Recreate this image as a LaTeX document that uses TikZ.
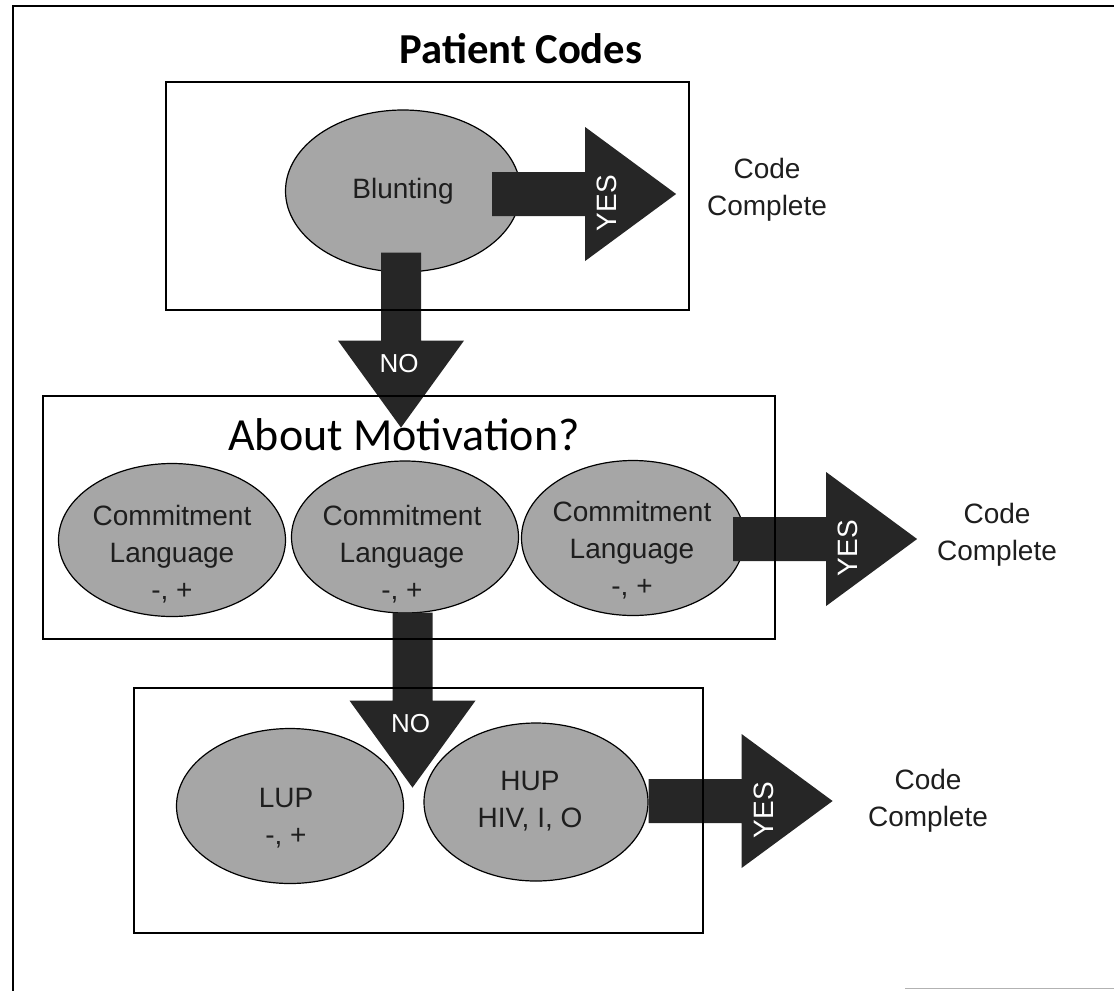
\documentclass[tikz,border=0pt]{standalone}
\usepackage{fontspec}
\setmainfont{Liberation Sans}
\newfontfamily\calibri{Carlito}
\usetikzlibrary{shapes.geometric,calc}
\definecolor{ovalgray}{HTML}{A6A6A6}
\definecolor{arrowdark}{HTML}{262626}
\definecolor{inkdark}{HTML}{1E1E1E}
\newcommand\bodyfs{\fontsize{21pt}{28pt}\selectfont}
\begin{document}
\begin{tikzpicture}[x=0.75pt,y=-0.75pt,
  oval/.style={ellipse, draw=black, line width=0.9pt, fill=ovalgray, inner sep=0pt, font=\bodyfs, text=inkdark},
  ovaltext/.style={align=center, font=\bodyfs, text=inkdark, inner sep=0pt},
  donetext/.style={align=center, font=\bodyfs, text=inkdark, inner sep=0pt},
  boxline/.style={draw=black, line width=1.2pt},
  arrowlabel/.style={text=white, font=\bodyfs, inner sep=0pt},
  pics/yesarrow/.style={code={
    \fill[arrowdark] (0,-22) -- (93,-22) -- (93,-67) -- (184,0) -- (93,67) -- (93,22) -- (0,22) -- cycle;
    \node[arrowlabel, rotate=90] (-lbl) at (115,9) {YES};
  }},
  pics/noarrow/.style={code={
    \fill[arrowdark] (-20,0) -- (-20,88) -- (-63,88) -- (0,175) -- (63,88) -- (20,88) -- (20,0) -- cycle;
    \node[arrowlabel, font=\fontsize{19.5pt}{24pt}\selectfont] (-lbl) at (-2,111) {NO};
  }}
]
\useasboundingbox (0,0) rectangle (1114,990);
\clip (0,0) rectangle (1114,990);

% ovals
\node[oval, minimum width=176.25pt, minimum height=121.5pt] (blunt) at (403,191) {Blunting};
\node[oval, minimum width=170.25pt, minimum height=114.75pt] (cl1) at (172,540) {};
\node[oval, minimum width=170.25pt, minimum height=114pt] (cl2) at (405,537) {};
\node[oval, minimum width=167.25pt, minimum height=116.25pt] (cl3) at (633,538) {};
\node[oval, minimum width=170.25pt, minimum height=116.25pt] (lup) at (290,806) {};
\node[oval, minimum width=168pt, minimum height=118.5pt] (hup) at (536,802) {};

% block arrows
\pic (yes1) at ($(blunt.east)+(-29,3)$) {yesarrow};
\pic (yes2) at ($(cl3.east)+(-12,1)$) {yesarrow};
\pic (yes3) at ($(hup.east)+(0,-1)$) {yesarrow};
\pic (no1) at ($(blunt.south)+(-2,-20)$) {noarrow};
\pic (no2) at ($(cl2.south)+(7.5,-1)$) {noarrow};

% frames
\draw[boxline] (166,82) rectangle (689,310);
\draw[boxline] (43,396) rectangle (775,639);
\draw[boxline] (134,688) rectangle (703,933);
\draw[boxline] (13,1000) -- (13,6) -- (1125,6);
\draw[gray!60, line width=0.9pt] (905,988.5) -- (1114,988.5);

% headings
\node[anchor=base, inner sep=0pt, font=\calibri\bfseries\fontsize{32pt}{38pt}\selectfont] (title) at (521,63) {Patient Codes};
\node[anchor=base, inner sep=0pt, font=\calibri\fontsize{34.5pt}{40pt}\selectfont] (motiv) at (404,450) {About Motivation?};

% oval texts
\node[ovaltext] (cl1txt) at (172,554) {Commitment\\Language\\-, +};
\node[ovaltext] (cl2txt) at (402,554) {Commitment\\Language\\-, +};
\node[ovaltext] (cl3txt) at (632,550) {Commitment\\Language\\-, +};
\node[ovaltext] (luptxt) at (286,818) {LUP\\-, +};
\node[ovaltext] (huptxt) at (530,801) {HUP\\HIV, I, O};

% outcomes
\node[donetext] (cc1) at (767,189.5) {Code\\Complete};
\node[donetext] (cc2) at (997,534.5) {Code\\Complete};
\node[donetext] (cc3) at (928,801) {Code\\Complete};
\end{tikzpicture}
\end{document}
